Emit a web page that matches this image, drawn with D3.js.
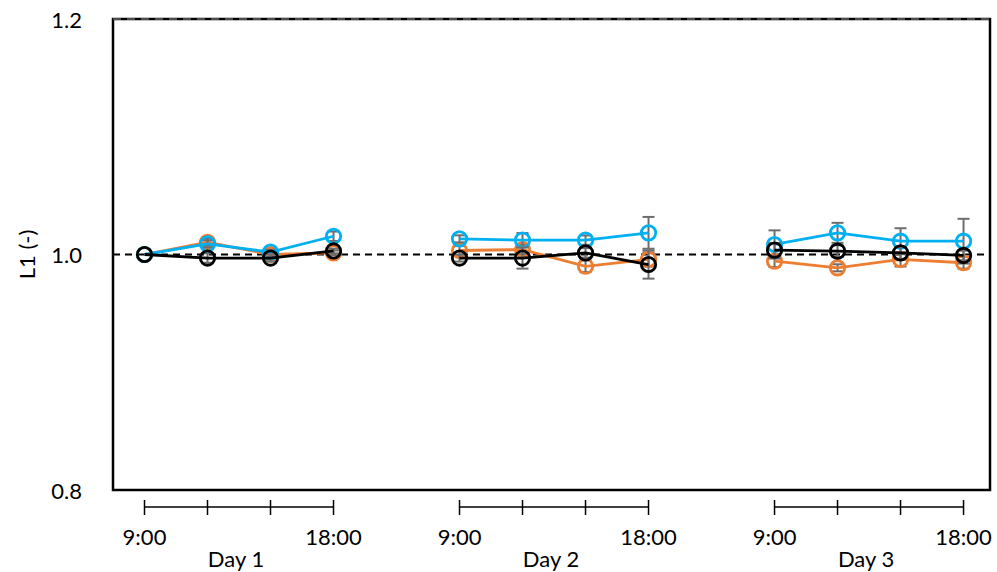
<!DOCTYPE html>
<html>
<head>
<meta charset="utf-8">
<script src="https://cdn.jsdelivr.net/npm/d3@7"></script>
<style>
  html, body { margin: 0; padding: 0; background: #fff; }
  svg { display: block; font-family: Lato, "Open Sans", sans-serif; }
</style>
</head>
<body>
<svg id="chart" width="997" height="572"></svg>
<script>
// Days and the sampled times within each day
const days = ["Day 1", "Day 2", "Day 3"];
const timeLabels = ["9:00", "", "", "18:00"];

// L1 ratio per sampling time (3 days x 4 times)
const blueValues   = [1.000, 1.009, 1.002, 1.0155, 1.0133, 1.0122, 1.0122, 1.0184, 1.0085, 1.0184, 1.0113, 1.0113];
const blueErrors   = [0.000, 0.003, 0.002, 0.004, 0.003, 0.006, 0.004, 0.0135, 0.012, 0.0085, 0.011, 0.019];
const orangeValues = [1.000, 1.0104, 1.000, 1.0014, 1.0034, 1.0042, 0.990, 0.9958, 0.9943, 0.9887, 0.9958, 0.993];
const orangeErrors = [0.000, 0.003, 0.002, 0.002, 0.004, 0.004, 0.005, 0.006, 0.005, 0.003, 0.006, 0.005];
const blackValues  = [1.000, 0.997, 0.997, 1.003, 0.997, 0.997, 1.0014, 0.9915, 1.0037, 1.0028, 1.0014, 0.9992];
const blackErrors  = [0.000, 0.004, 0.003, 0.002, 0.003, 0.009, 0.004, 0.012, 0.006, 0.005, 0.005, 0.004];

const yTicks = [0.8, 1.0, 1.2];
const referenceLevel = 1.0;

const series = [
  { name: "orange", color: "#ED7D31", values: orangeValues, errors: orangeErrors },
  { name: "blue",   color: "#00B0F0", values: blueValues,   errors: blueErrors },
  { name: "black",  color: "#000000", values: blackValues,  errors: blackErrors }
];

const svg = d3.select("#chart");
const plot = { left: 113, right: 990, top: 19, bottom: 490 };
const fontSize = 22;

// Each day occupies four slots, with one empty slot between days
const slotsPerDay = timeLabels.length;
const slotIndex = i => Math.floor(i / slotsPerDay) * (slotsPerDay + 1) + (i % slotsPerDay);

const x = d3.scaleLinear().domain([-0.5, 13.42]).range([plot.left, plot.right]);
const y = d3.scaleLinear().domain([0.8, 1.2]).range([plot.bottom, plot.top]);

// Y tick labels
svg.append("g").selectAll("text").data(yTicks).join("text")
  .attr("x", 82).attr("y", d => y(d))
  .attr("text-anchor", "end").attr("dominant-baseline", "central")
  .attr("font-size", fontSize).attr("fill", "#000")
  .text(d => d3.format(".1f")(d));

// Y axis title
svg.append("text")
  .attr("transform", `translate(26,${y(1.0)}) rotate(-90)`)
  .attr("text-anchor", "middle").attr("dominant-baseline", "central")
  .attr("font-size", fontSize).attr("fill", "#000")
  .text("L1 (-)");

// Reference line at 1.0
svg.append("line")
  .attr("x1", plot.left).attr("x2", plot.right)
  .attr("y1", y(referenceLevel)).attr("y2", y(referenceLevel))
  .attr("stroke", "#000").attr("stroke-width", 2).attr("stroke-dasharray", "7,5");

// Series: error bars, lines and open markers
series.forEach(s => {
  const g = svg.append("g");
  const eb = g.append("g").attr("stroke", "#6E6E6E").attr("stroke-width", 2);
  s.values.forEach((v, i) => {
    const e = s.errors[i];
    if (!e) return;
    const cx = x(slotIndex(i));
    eb.append("line").attr("x1", cx).attr("x2", cx).attr("y1", y(v - e)).attr("y2", y(v + e));
    eb.append("line").attr("x1", cx - 6).attr("x2", cx + 6).attr("y1", y(v + e)).attr("y2", y(v + e));
    eb.append("line").attr("x1", cx - 6).attr("x2", cx + 6).attr("y1", y(v - e)).attr("y2", y(v - e));
  });
  for (let d = 0; d < days.length; d++) {
    const seg = s.values.slice(d * slotsPerDay, (d + 1) * slotsPerDay);
    g.append("path")
      .attr("d", d3.line()
        .x((v, j) => x(slotIndex(d * slotsPerDay + j)))
        .y(v => y(v))(seg))
      .attr("fill", "none").attr("stroke", s.color).attr("stroke-width", 2.8);
  }
  g.selectAll("circle").data(s.values).join("circle")
    .attr("cx", (v, i) => x(slotIndex(i))).attr("cy", v => y(v))
    .attr("r", 7.2).attr("fill", "none")
    .attr("stroke", s.color).attr("stroke-width", 2.8);
});

// Plot frame
svg.append("rect")
  .attr("x", plot.left).attr("y", plot.top)
  .attr("width", plot.right - plot.left).attr("height", plot.bottom - plot.top)
  .attr("fill", "none").attr("stroke", "#000").attr("stroke-width", 2.5);
svg.append("line")
  .attr("x1", plot.left).attr("x2", plot.right)
  .attr("y1", plot.top).attr("y2", plot.top)
  .attr("stroke", "#999").attr("stroke-width", 1).attr("stroke-dasharray", "8,6");

// Day brackets along the bottom
const axisY = 507;
days.forEach((day, d) => {
  const first = x(slotIndex(d * slotsPerDay));
  const last = x(slotIndex(d * slotsPerDay + slotsPerDay - 1));
  const g = svg.append("g");
  g.append("line").attr("x1", first).attr("x2", last).attr("y1", axisY).attr("y2", axisY)
    .attr("stroke", "#000").attr("stroke-width", 1.5);
  timeLabels.forEach((t, j) => {
    const tx = x(slotIndex(d * slotsPerDay + j));
    g.append("line").attr("x1", tx).attr("x2", tx).attr("y1", axisY - 7).attr("y2", axisY + 8)
      .attr("stroke", "#000").attr("stroke-width", 1.5);
    if (t) {
      g.append("text").attr("x", tx).attr("y", 536)
        .attr("text-anchor", "middle").attr("dominant-baseline", "central")
        .attr("font-size", fontSize).attr("fill", "#000").text(t);
    }
  });
  g.append("text").attr("x", (first + last) / 2 - 3).attr("y", 558)
    .attr("text-anchor", "middle").attr("dominant-baseline", "central")
    .attr("font-size", fontSize).attr("fill", "#000").text(day);
});
</script>
</body>
</html>
